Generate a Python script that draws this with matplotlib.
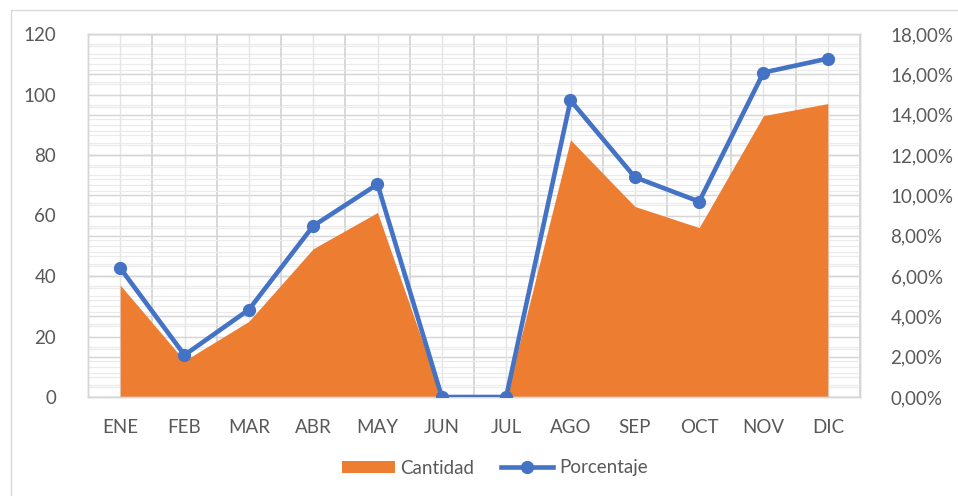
import matplotlib
matplotlib.use("Agg")
import matplotlib.pyplot as plt
from matplotlib.ticker import FuncFormatter, MultipleLocator, FixedLocator
from matplotlib.lines import Line2D
from matplotlib.patches import Patch, Rectangle

months = ["ENE", "FEB", "MAR", "ABR", "MAY", "JUN", "JUL", "AGO", "SEP", "OCT", "NOV", "DIC"]
cantidad = [37, 12, 25, 49, 61, 0, 0, 85, 63, 56, 93, 97]
porcentaje = [6.40, 2.08, 4.33, 8.48, 10.55, 0.0, 0.0, 14.71, 10.90, 9.69, 16.09, 16.78]

ORANGE = "#ED7D31"
BLUE = "#4472C4"
TXT = "#595959"
FS = 13.5
plt.rcParams["font.family"] = ["Lato", "DejaVu Sans"]

W, H = 958, 496
fig = plt.figure(figsize=(W / 100, H / 100), dpi=100)
# outer chart border
fig.patches.append(Rectangle((11 / W, -0.1), 1.2, 1 - 10 / H + 0.1, transform=fig.transFigure,
                             fill=False, edgecolor="#d9d9d9", linewidth=1.0, zorder=0))

ax1 = fig.add_axes([88 / W, 1 - 397 / H, (860 - 88) / W, (397 - 34) / H])
ax2 = ax1.twinx()

x = list(range(len(months)))
ax1.set_xlim(-0.5, len(months) - 0.5)
ax1.set_ylim(0, 120)
ax2.set_ylim(0, 18)

# gridlines (all drawn on ax1, behind the area)
ax1.set_axisbelow(True)
ax1.yaxis.set_major_locator(MultipleLocator(20))
ax1.yaxis.set_minor_locator(MultipleLocator(4))
ax1.set_xticks(x)
ax1.xaxis.set_minor_locator(FixedLocator([i - 0.5 for i in range(len(months) + 1)]))
ax1.grid(True, which="major", axis="y", color="#d6d6d6", linewidth=1.0)
ax1.grid(True, which="minor", axis="y", color="#ebebeb", linewidth=0.9)
ax1.grid(True, which="minor", axis="x", color="#d6d6d6", linewidth=1.3)
ax1.grid(True, which="major", axis="x", color="#e4e4e4", linewidth=1.0)
sec_tr = ax2.get_yaxis_transform()
for v in [i * 2 for i in range(10)]:
    ax1.add_line(Line2D([0, 1], [v, v], transform=sec_tr, color="#d6d6d6", linewidth=1.0, zorder=0.5))
for v in [i * 0.5 for i in range(37)]:
    ax1.add_line(Line2D([0, 1], [v, v], transform=sec_tr, color="#ebebeb", linewidth=0.9, zorder=0.4))

ax1.fill_between(x, 0, cantidad, color=ORANGE, linewidth=0, zorder=2)
ax2.plot(x, porcentaje, color=BLUE, linewidth=3.3, marker="o", markersize=8.5, zorder=3,
         solid_joinstyle="round")

ax1.set_xticklabels(months)
ax1.tick_params(axis="x", which="both", length=0, pad=16, labelsize=FS, labelcolor=TXT)
ax1.tick_params(axis="y", which="both", length=0, pad=23, labelsize=FS, labelcolor=TXT)
ax2.yaxis.set_major_locator(MultipleLocator(2))
ax2.yaxis.set_major_formatter(FuncFormatter(lambda v, p: f"{v:.2f}%".replace(".", ",")))
ax2.tick_params(axis="y", length=0, pad=22, labelsize=FS, labelcolor=TXT)

for a in (ax1, ax2):
    for s in a.spines.values():
        s.set_color("#d6d6d6")
        s.set_linewidth(1.0)

handles = [Patch(facecolor=ORANGE, edgecolor="none"),
           Line2D([], [], color=BLUE, linewidth=3.3, marker="o", markersize=8.5)]
fig.legend(handles, ["Cantidad", "Porcentaje"], loc="center", bbox_to_anchor=(495 / W, 1 - 468 / H),
           ncol=2, frameon=False, fontsize=FS, labelcolor=TXT, handlelength=2.8,
           handleheight=0.65, handletextpad=0.3, columnspacing=1.4)

fig.savefig("out.png", dpi=100)
